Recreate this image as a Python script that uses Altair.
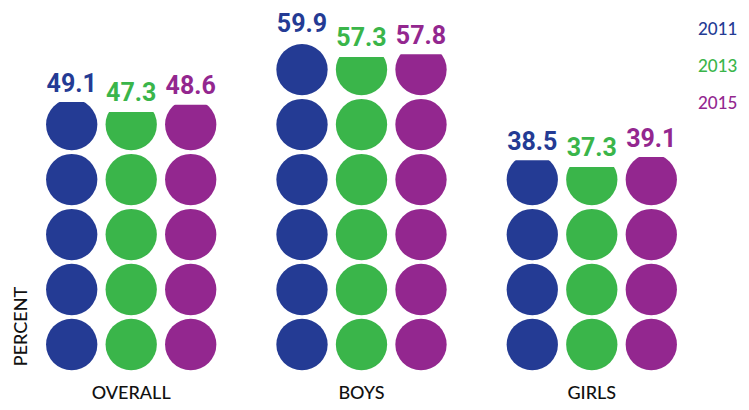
import math
import altair as alt
import pandas as pd

# ---- data ----
groups = ["OVERALL", "BOYS", "GIRLS"]
years = ["2011", "2013", "2015"]
values_2011 = [49.1, 59.9, 38.5]
values_2013 = [47.3, 57.3, 37.3]
values_2015 = [48.6, 57.8, 39.1]
colors = ["#243b94", "#3ab54a", "#93278f"]
UNIT = 10  # percent represented by one circle

series = dict(zip(years, [values_2011, values_2013, values_2015]))

bars = []
circles = []
for yr in years:
    for g, v in zip(groups, series[yr]):
        n = math.ceil(v / UNIT)
        bars.append({"group": g, "year": yr, "value": v, "cap": n * UNIT + 0.5,
                     "label": f"{v:.1f}"})
        for k in range(n):
            circles.append({"group": g, "year": yr, "mid": k * UNIT + UNIT / 2})

bars_df = pd.DataFrame(bars)
circ_df = pd.DataFrame(circles)

x_axis = alt.Axis(title=None, ticks=False, domain=False, labelAngle=0,
                  labelFont="Lato", labelFontSize=18, labelFontWeight=500,
                  labelColor="#111111",
                  labelPadding=26, labelBaseline="alphabetic")
x_enc = alt.X("group:N", sort=groups,
              scale=alt.Scale(paddingInner=0, paddingOuter=0.035), axis=x_axis)
xo_enc = alt.XOffset("year:N", sort=years,
                     scale=alt.Scale(paddingInner=0, paddingOuter=0.435))
y_scale = alt.Scale(domain=[0, 66.2], nice=False, zero=False)
y_axis = alt.Axis(title="PERCENT", labels=False, ticks=False, domain=False,
                  grid=False, titleAngle=270, titleX=18.7, titleY=318,
                  titleAlign="center", titleBaseline="alphabetic",
                  titleFont="Lato", titleFontSize=18, titleFontWeight=500,
                  titleColor="#111111")
color_scale = alt.Scale(domain=years, range=colors)

circ = alt.Chart(circ_df).mark_circle(size=2632, opacity=1).encode(
    x=x_enc,
    xOffset=xo_enc,
    y=alt.Y("mid:Q", scale=y_scale, axis=y_axis),
    color=alt.Color("year:N", scale=color_scale, sort=years,
                    legend=alt.Legend(title=None, orient="none", legendX=673, legendY=13,
                                      symbolSize=0, symbolOpacity=0, symbolStrokeWidth=0,
                                      labelOffset=0, labelFont="Lato", labelFontSize=17,
                                      labelFontWeight=500, labelLimit=200,
                                      labelColor=alt.ExprRef("scale('color', datum.value)"),
                                      rowPadding=19, padding=0)),
)

mask = alt.Chart(bars_df).mark_bar(width=56, color="white").encode(
    x=x_enc,
    xOffset=xo_enc,
    y=alt.Y("value:Q", scale=y_scale, axis=y_axis),
    y2="cap:Q",
)

labels = alt.Chart(bars_df).mark_text(
    font="Roboto", fontWeight="bold", fontSize=25,
    baseline="alphabetic", dy=-10.5
).encode(
    x=x_enc,
    xOffset=xo_enc,
    y=alt.Y("value:Q", scale=y_scale, axis=y_axis),
    text="label:N",
    color=alt.Color("year:N", scale=color_scale, sort=years, legend=None),
)

chart = alt.layer(circ, mask, labels).properties(
    width=707, height=364,
    autosize=alt.AutoSizeParams(type="none"),
    padding={"left": 0, "top": 0, "right": 26, "bottom": 30},
    background="white",
).configure_view(stroke=None)

chart.save("out.html", embed_options={"renderer": "svg", "actions": False})
